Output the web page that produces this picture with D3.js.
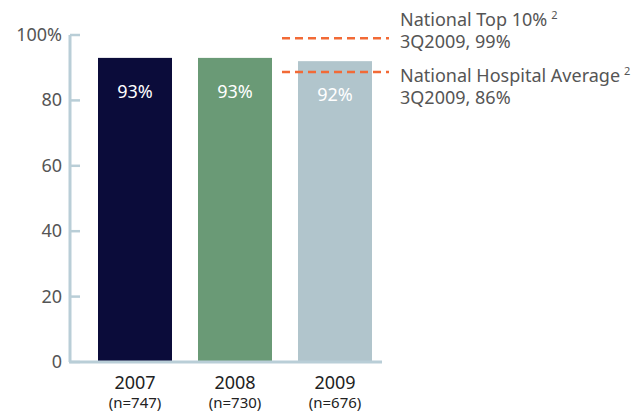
<!DOCTYPE html>
<html>
<head>
<meta charset="utf-8">
<script src="https://cdn.jsdelivr.net/npm/d3@7"></script>
<style>
  body { margin: 0; background: #fff; }
  text { font-family: "Noto Sans", sans-serif; }
</style>
</head>
<body>
<div id="chart"></div>
<script>
const years = ["2007", "2008", "2009"];
const sampleSizes = ["(n=747)", "(n=730)", "(n=676)"];
const rates = [93, 93, 92];
const barColors = ["#0b0c3a", "#6a9a76", "#b1c5cc"];
const yTicks = [0, 20, 40, 60, 80, 100];

const refNames = ["National Top 10%", "National Hospital Average"];
const refLabels = ["3Q2009, 99%", "3Q2009, 86%"];
// the source draws the average line a bit above 86, near 88.7
const refLevels = [99, 88.7];

const width = 635, height = 417;
const svg = d3.select("#chart").append("svg")
    .attr("width", width)
    .attr("height", height);

const y = d3.scaleLinear().domain([0, 100]).range([362, 35]);
const x = d3.scaleBand().domain(years).range([85, 385]).paddingInner(0.26).paddingOuter(0.13);

const axisColor = "#b9ced7";
const textGray = "#555";

// y axis
svg.append("line")
    .attr("x1", 70).attr("x2", 70)
    .attr("y1", y(100)).attr("y2", y(0))
    .attr("stroke", axisColor).attr("stroke-width", 3);

svg.selectAll(".tick").data(yTicks).enter().append("line")
    .attr("x1", 70).attr("x2", 80)
    .attr("y1", d => y(d)).attr("y2", d => y(d))
    .attr("stroke", axisColor).attr("stroke-width", 2.5);

svg.selectAll(".ylab").data(yTicks).enter().append("text")
    .attr("x", 62)
    .attr("y", d => y(d) + 6)
    .attr("text-anchor", "end")
    .attr("font-size", 18)
    .attr("fill", textGray)
    .text(d => d === 100 ? "100%" : d);

// bars
svg.selectAll("rect").data(rates).enter().append("rect")
    .attr("x", (d, i) => x(years[i]))
    .attr("y", d => y(d))
    .attr("width", x.bandwidth())
    .attr("height", d => y(0) - y(d))
    .attr("fill", (d, i) => barColors[i]);

svg.selectAll(".vlab").data(rates).enter().append("text")
    .attr("x", (d, i) => x(years[i]) + x.bandwidth() / 2)
    .attr("y", d => y(d) + 40)
    .attr("text-anchor", "middle")
    .attr("font-size", 18)
    .attr("fill", "#fff")
    .text(d => d + "%");

// baseline
svg.append("line")
    .attr("x1", 69).attr("x2", 382)
    .attr("y1", y(0)).attr("y2", y(0))
    .attr("stroke", axisColor).attr("stroke-width", 3);

// x labels
svg.selectAll(".xlab").data(years).enter().append("text")
    .attr("x", d => x(d) + x.bandwidth() / 2)
    .attr("y", 389)
    .attr("text-anchor", "middle")
    .attr("font-size", 18)
    .attr("fill", "#222")
    .text(d => d);

svg.selectAll(".nlab").data(sampleSizes).enter().append("text")
    .attr("x", (d, i) => x(years[i]) + x.bandwidth() / 2)
    .attr("y", 408)
    .attr("text-anchor", "middle")
    .attr("font-size", 15)
    .attr("fill", "#222")
    .text(d => d);

// reference lines
svg.selectAll(".ref").data(refLevels).enter().append("line")
    .attr("x1", 282).attr("x2", 389)
    .attr("y1", d => y(d)).attr("y2", d => y(d))
    .attr("stroke", "#f26a36").attr("stroke-width", 2.5)
    .attr("stroke-dasharray", "8,5");

// label text sits at fixed spots beside the lines
const nameY = [26, 82], labelY = [48, 104];
refNames.forEach((name, i) => {
    const t = svg.append("text")
        .attr("x", 400)
        .attr("y", nameY[i])
        .attr("font-size", 18)
        .attr("fill", textGray);
    t.append("tspan").text(name);
    t.append("tspan").attr("dx", 4).attr("dy", -7).attr("font-size", 11).text("2");
    svg.append("text")
        .attr("x", 400)
        .attr("y", labelY[i])
        .attr("font-size", 18)
        .attr("fill", textGray)
        .text(refLabels[i]);
});
</script>
</body>
</html>
